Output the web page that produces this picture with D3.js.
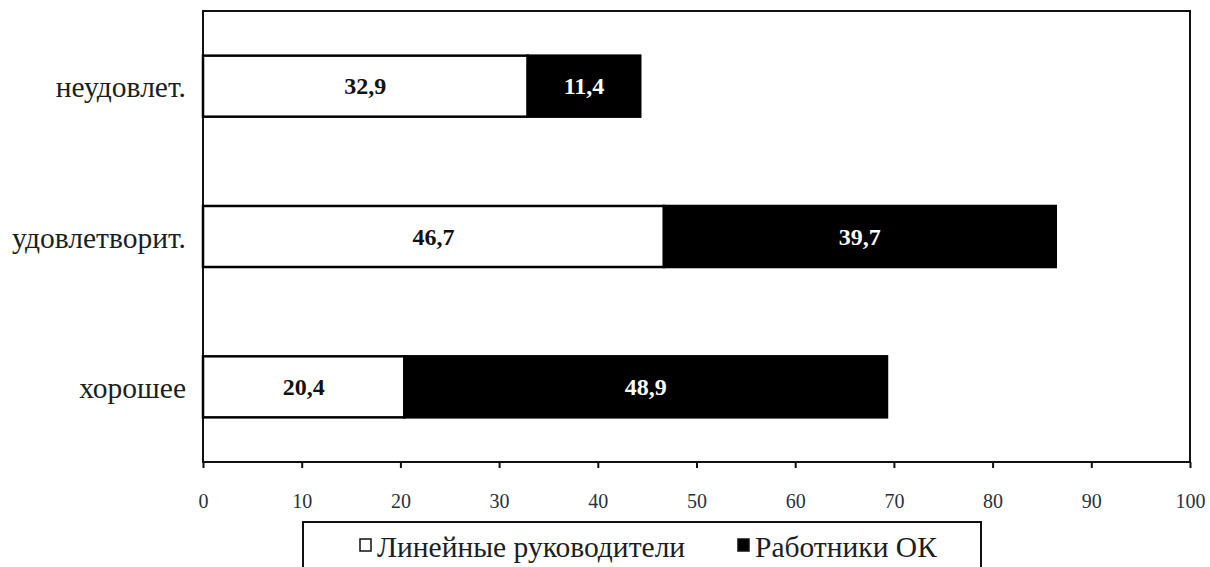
<!DOCTYPE html>
<html>
<head>
<meta charset="utf-8">
<script src="https://cdn.jsdelivr.net/npm/d3@7"></script>
<style>
  html, body { margin: 0; padding: 0; background: #fff; }
  svg { display: block; }
</style>
</head>
<body>
<svg id="chart" width="1210" height="567"></svg>
<script>
const categories = ["неудовлет.", "удовлетворит.", "хорошее"];
const lineManagers = [32.9, 46.7, 20.4];
const hrStaff = [11.4, 39.7, 48.9];
const xTicks = [0, 10, 20, 30, 40, 50, 60, 70, 80, 90, 100];
const seriesNames = ["Линейные руководители", "Работники ОК"];
const seriesFill = ["#ffffff", "#000000"];
const labelFill = ["#111111", "#ffffff"];

const FONT = "'Liberation Serif', 'DejaVu Serif', serif";
const svg = d3.select("#chart").style("font-family", FONT);
const plot = { left: 203, right: 1190, top: 11, bottom: 462 };

const x = d3.scaleLinear().domain([0, 100]).range([plot.left, plot.right]);
const y = d3.scaleBand().domain(categories).range([plot.top, plot.bottom])
  .paddingInner(0.594).paddingOuter(0.297);

const stacked = categories.map((c, i) => {
  const vals = [lineManagers[i], hrStaff[i]];
  let acc = 0;
  return vals.map((v, s) => {
    const seg = { cat: c, s, v, x0: acc, x1: acc + v };
    acc += v;
    return seg;
  });
}).flat();

svg.append("rect")
  .attr("x", plot.left).attr("y", plot.top)
  .attr("width", plot.right - plot.left).attr("height", plot.bottom - plot.top)
  .attr("fill", "none").attr("stroke", "#111").attr("stroke-width", 2);

svg.append("g").selectAll("rect").data(stacked).join("rect")
  .attr("x", d => x(d.x0))
  .attr("y", d => y(d.cat))
  .attr("width", d => x(d.x1) - x(d.x0))
  .attr("height", y.bandwidth())
  .attr("fill", d => seriesFill[d.s])
  .attr("stroke", "#000")
  .attr("stroke-width", 2.5);

svg.append("g").selectAll("text").data(stacked).join("text")
  .attr("x", d => (x(d.x0) + x(d.x1)) / 2)
  .attr("y", d => y(d.cat) + y.bandwidth() / 2)
  .attr("text-anchor", "middle")
  .attr("dominant-baseline", "central")
  .attr("font-family", FONT)
  .attr("font-size", 24)
  .attr("font-weight", "bold")
  .attr("fill", d => labelFill[d.s])
  .text(d => d3.format(".1f")(d.v).replace(".", ","));

svg.append("g").selectAll("text").data(categories).join("text")
  .attr("x", 186)
  .attr("y", d => y(d) + y.bandwidth() / 2 + 1)
  .attr("text-anchor", "end")
  .attr("dominant-baseline", "central")
  .attr("font-family", FONT)
  .attr("font-size", 29.5)
  .attr("fill", "#1a1f24")
  .text(d => d);

const xAxis = d3.axisBottom(x).tickValues(xTicks).tickSize(6).tickSizeOuter(0).tickPadding(26)
  .tickFormat(d3.format("d"));
const gx = svg.append("g").attr("transform", `translate(0,${plot.bottom})`).call(xAxis);
gx.select(".domain").remove();
gx.selectAll(".tick line").attr("stroke", "#111").attr("stroke-width", 2);
gx.selectAll(".tick text")
  .attr("font-family", FONT)
  .attr("font-size", 20)
  .attr("fill", "#253340");

const lg = svg.append("g");
lg.append("rect")
  .attr("x", 303).attr("y", 522).attr("width", 678).attr("height", 60)
  .attr("fill", "#fff").attr("stroke", "#111").attr("stroke-width", 2);
const legendX = [359, 737];
seriesNames.forEach((name, i) => {
  lg.append("rect")
    .attr("x", legendX[i] + 1).attr("y", 539).attr("width", 11).attr("height", 12)
    .attr("fill", seriesFill[i]).attr("stroke", "#111").attr("stroke-width", 1.5);
  lg.append("text")
    .attr("x", legendX[i] + 18).attr("y", 557)
    .attr("font-family", FONT)
    .attr("font-size", 29.5)
    .attr("fill", "#1a1f24")
    .text(name);
});
</script>
</body>
</html>
